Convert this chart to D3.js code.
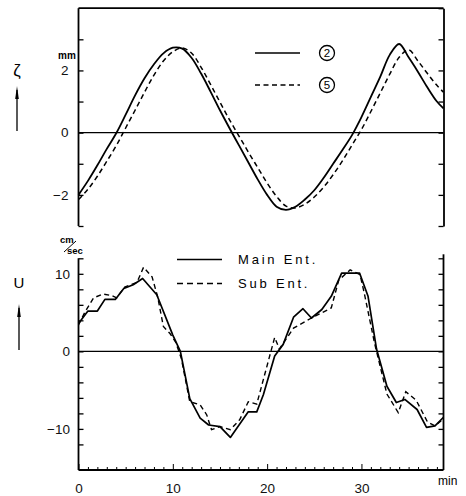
<!DOCTYPE html>
<html>
<head>
<meta charset="utf-8">
<script src="https://cdn.jsdelivr.net/npm/d3@7"></script>
<style>
  body { margin: 0; background: #fff; }
  svg { display: block; font-family: "Liberation Sans", Arial, sans-serif; }
</style>
</head>
<body>
<div class="chart"></div>
<script>
// top panel: water level zeta (mm) at stations 2 and 5
const tZeta = [0,1,2,3,4,5,6,7,8,9,10,11,12,13,14,15,16,17,18,19,20,21,22,23,24,25,26,27,28,29,30,31,32,33,34,35,36,37,38,38.7];
const zeta2 = [-2.00,-1.55,-1.05,-0.52,-0.02,0.58,1.20,1.75,2.20,2.55,2.73,2.70,2.40,1.90,1.32,0.72,0.15,-0.40,-0.95,-1.50,
               -2.00,-2.38,-2.48,-2.38,-2.15,-1.85,-1.45,-1.00,-0.55,-0.08,0.50,1.15,1.80,2.50,2.85,2.42,1.95,1.45,1.00,0.78];
const zeta5 = [-2.15,-1.82,-1.40,-0.92,-0.42,0.15,0.72,1.30,1.85,2.30,2.60,2.72,2.55,2.10,1.55,0.98,0.42,-0.10,-0.62,-1.12,
               -1.62,-2.05,-2.36,-2.42,-2.30,-2.07,-1.75,-1.35,-0.90,-0.40,0.10,0.68,1.28,1.88,2.42,2.66,2.30,1.90,1.52,1.30];

// bottom panel: velocity U (cm/sec) at main and sub entrances
const tMain = [0,1,2,2.8,3.9,4.8,5.8,6.8,8.3,10,10.8,11.8,12.9,13.8,15,16.1,18,18.9,19.6,20.8,21.7,22.8,23.8,24.7,25.8,26.8,27.9,29.8,30.7,31.6,32.7,33.7,34.6,35.9,36.9,37.8,38.7];
const uMain = [3.6,5.2,5.2,6.7,6.7,8.1,8.6,9.4,7.3,2.1,0,-6.1,-8.6,-9.5,-9.7,-11.1,-7.8,-7.8,-5.6,-0.6,0.9,4.4,5.5,4.3,5.4,7.1,10.1,10.1,7.1,0.3,-4.5,-6.6,-6.2,-7.5,-9.8,-9.6,-8.5];
const tSub = [0,0.7,1.6,2.6,3.5,4.05,4.9,6.2,6.9,7.8,8.4,9.0,9.7,10.3,10.9,11.8,12.9,13.6,14.1,15.0,16.1,17.1,18.0,18.9,20.8,21.3,22.8,24.7,26.8,27.6,28.8,29.85,30.3,31.4,32.7,33.9,34.7,35.8,37.0,37.8,38.7];
const uSub = [3.4,5.1,6.9,7.4,7.2,6.9,8.3,8.9,10.85,9.6,7.0,3.2,2.3,1.2,-0.9,-6.5,-6.9,-8.2,-10.1,-9.7,-10.1,-8.8,-6.5,-6.8,1.8,0.3,3.0,4.3,5.6,9.2,10.5,9.9,7.5,1.0,-5.5,-7.9,-5.2,-6.3,-9.1,-9.6,-8.7];

const xTicks = d3.range(0, 39);
const xLabels = [0, 10, 20, 30];
const zetaTicks = [-3,-2,-1,0,1,2,3,4];
const zetaLabels = [-2, 0, 2];
const uTicks = d3.range(-12, 13, 2);
const uLabels = [-10, 0, 10];

const width = 466, height = 496;
const left = 78.5, right = 443.5;

const svg = d3.select('.chart')
    .append('svg')
    .attr('width', width)
    .attr('height', height)
    .attr('viewBox', [0, 0, width, height]);

const x = d3.scaleLinear().domain([0, 38.7]).range([left, right]);
const yTop = d3.scaleLinear().domain([-3, 4]).range([226, 8.2]);
const yBot = d3.scaleLinear().domain([-15.3, 12]).range([470, 258.3]);

function styleAxis(g) {
    g.select('.domain').attr('stroke-width', 1.8);
    g.selectAll('.tick line').attr('stroke-width', 1.3);
    g.selectAll('.tick text').attr('font-size', 13.5).attr('fill', '#111');
}

// ---- top panel ----
svg.append('g')
    .attr('transform', `translate(${left},0)`)
    .call(d3.axisLeft(yTop).tickValues(zetaTicks.filter(d => d < 4))
        .tickSizeInner(-5).tickSizeOuter(0).tickPadding(10)
        .tickFormat(d => zetaLabels.includes(d) ? d3.format('d')(d) : ''))
    .call(styleAxis)
    .call(g => g.select('.domain').attr('d', `M0,${yTop(-3)}V${yTop(4)}`));

svg.append('g')
    .attr('transform', `translate(${right},0)`)
    .call(d3.axisRight(yTop).tickValues(zetaTicks).tickSizeInner(-5).tickSizeOuter(0).tickFormat(''))
    .call(styleAxis);

svg.append('line')
    .attr('x1', left).attr('x2', right)
    .attr('y1', yTop(4)).attr('y2', yTop(4))
    .attr('stroke', 'black').attr('stroke-width', 1.8);

svg.append('line')
    .attr('x1', left).attr('x2', right)
    .attr('y1', yTop(0)).attr('y2', yTop(0))
    .attr('stroke', 'black').attr('stroke-width', 1.2);

const smooth = d3.line()
    .curve(d3.curveCatmullRom)
    .x(d => x(d[0]))
    .y(d => yTop(d[1]));

svg.append('path')
    .datum(d3.zip(tZeta, zeta2))
    .attr('fill', 'none').attr('stroke', 'black').attr('stroke-width', 1.8)
    .attr('d', smooth);
svg.append('path')
    .datum(d3.zip(tZeta, zeta5))
    .attr('fill', 'none').attr('stroke', 'black').attr('stroke-width', 1.5)
    .attr('stroke-dasharray', '5,3.5')
    .attr('d', smooth);

// top legend
const legTop = [{label: '2', dash: null, y: 53}, {label: '5', dash: '5,3.5', y: 85}];
legTop.forEach(d => {
    svg.append('line')
        .attr('x1', 255).attr('x2', 300).attr('y1', d.y).attr('y2', d.y)
        .attr('stroke', 'black').attr('stroke-width', 1.6)
        .attr('stroke-dasharray', d.dash);
    svg.append('circle')
        .attr('cx', 327).attr('cy', d.y).attr('r', 7.5)
        .attr('fill', 'none').attr('stroke', 'black').attr('stroke-width', 1.3);
    svg.append('text')
        .attr('x', 327).attr('y', d.y).attr('dy', '0.36em')
        .attr('text-anchor', 'middle').attr('font-size', 11.5)
        .text(d.label);
});

svg.append('text').attr('x', 58).attr('y', 59).attr('font-size', 10).attr('font-weight', 'bold').text('mm');
svg.append('text').attr('x', 17).attr('y', 76).attr('text-anchor', 'middle').attr('font-size', 17).text('ζ');
arrow(17, 86, 131);

// ---- bottom panel ----
svg.append('g')
    .attr('transform', `translate(${left},0)`)
    .call(d3.axisLeft(yBot).tickValues(uTicks)
        .tickSizeInner(-5).tickSizeOuter(0).tickPadding(8.5)
        .tickFormat(d => uLabels.includes(d) ? d3.format('d')(d) : ''))
    .call(styleAxis)
    .call(g => g.select('.domain').attr('d', `M0,${yBot(-15.3)}V${yBot(12)}`));

svg.append('g')
    .attr('transform', `translate(${right},0)`)
    .call(d3.axisRight(yBot).tickValues(uTicks).tickSizeInner(-5).tickSizeOuter(0).tickFormat(''))
    .call(styleAxis)
    .call(g => g.select('.domain').attr('d', `M0,${yBot(-15.3)}V${yBot(12) - 4}`));

svg.append('g')
    .attr('transform', `translate(0,${yBot(-15.3)})`)
    .call(d3.axisBottom(x).tickValues(xTicks)
        .tickSizeInner(-3).tickSizeOuter(0).tickPadding(13)
        .tickFormat(d => xLabels.includes(d) ? d : ''))
    .call(styleAxis)
    .call(g => g.select('.domain').attr('d', `M${left},0H${right}`))
    .call(g => g.selectAll('.tick').filter(d => d % 10 === 0).select('line').attr('y2', -6))
    .call(g => g.selectAll('.tick line').attr('stroke-width', 1));

svg.append('text').attr('x', 438).attr('y', 485).attr('font-size', 12).text('min');

svg.append('line')
    .attr('x1', left).attr('x2', right)
    .attr('y1', yBot(0)).attr('y2', yBot(0))
    .attr('stroke', 'black').attr('stroke-width', 1.2);

const poly = d3.line()
    .x(d => x(d[0]))
    .y(d => yBot(d[1]));

svg.append('path')
    .datum(d3.zip(tMain, uMain))
    .attr('fill', 'none').attr('stroke', 'black').attr('stroke-width', 1.7)
    .attr('stroke-linejoin', 'round')
    .attr('d', poly);
svg.append('path')
    .datum(d3.zip(tSub, uSub))
    .attr('fill', 'none').attr('stroke', 'black').attr('stroke-width', 1.4)
    .attr('stroke-dasharray', '5,3.5')
    .attr('d', poly);

// bottom legend
const legBot = [{label: 'Main Ent.', dash: null, y: 259.5}, {label: 'Sub Ent.', dash: '6,4', y: 283.5}];
legBot.forEach(d => {
    svg.append('line')
        .attr('x1', 177).attr('x2', 222).attr('y1', d.y).attr('y2', d.y)
        .attr('stroke', 'black').attr('stroke-width', 1.4)
        .attr('stroke-dasharray', d.dash);
    svg.append('text')
        .attr('x', 238).attr('y', d.y).attr('dy', '0.36em')
        .attr('font-size', 13).attr('letter-spacing', 2.8)
        .text(d.label);
});

// unit cm/sec
svg.append('text').attr('x', 60).attr('y', 243).attr('font-size', 9.5).attr('font-weight', 'bold').text('cm');
svg.append('line').attr('x1', 64).attr('y1', 252).attr('x2', 76).attr('y2', 241)
    .attr('stroke', 'black').attr('stroke-width', 1);
svg.append('text').attr('x', 67).attr('y', 254).attr('font-size', 9.5).attr('font-weight', 'bold').text('sec');
svg.append('text').attr('x', 19).attr('y', 288).attr('text-anchor', 'middle').attr('font-size', 15).text('U');
arrow(19, 304, 350);

function arrow(cx, yTip, yEnd) {
    svg.append('line')
        .attr('x1', cx).attr('x2', cx).attr('y1', yTip + 4).attr('y2', yEnd)
        .attr('stroke', 'black').attr('stroke-width', 1.3);
    svg.append('path')
        .attr('d', `M${cx},${yTip}L${cx - 1.8},${yTip + 13}L${cx + 1.8},${yTip + 13}Z`)
        .attr('fill', 'black');
}
</script>
</body>
</html>
